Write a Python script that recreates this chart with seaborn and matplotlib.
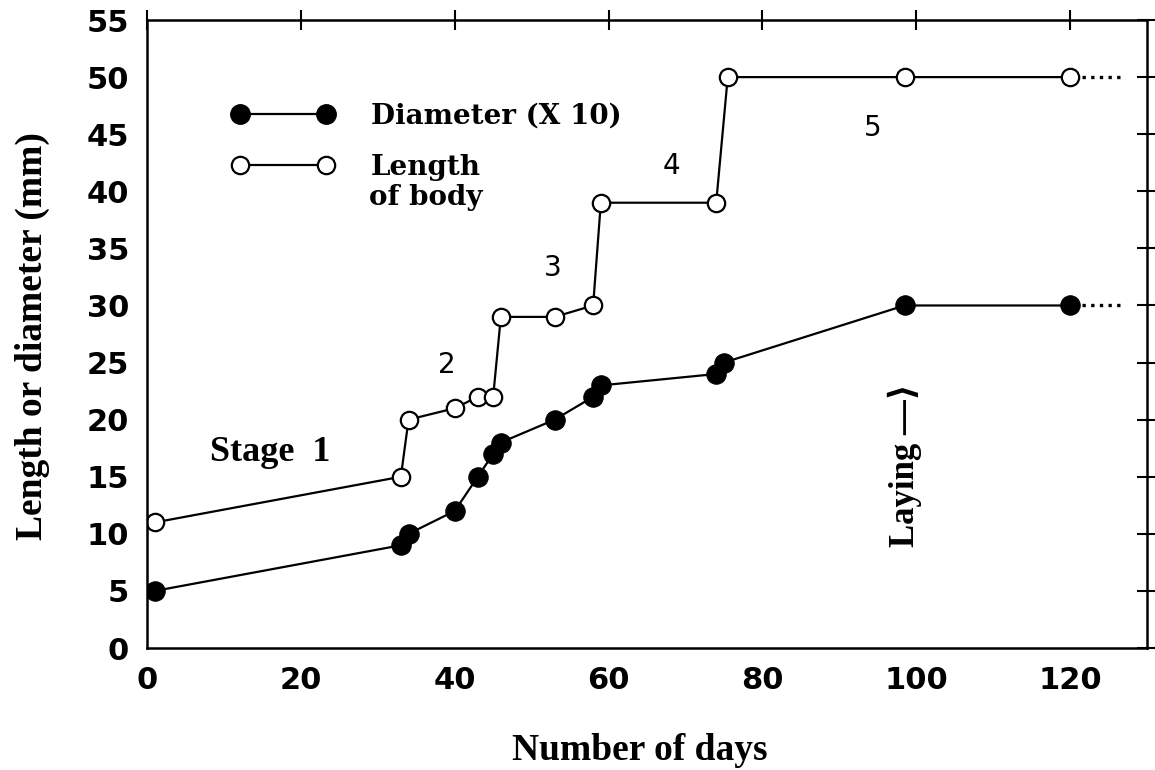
import numpy as np
import pandas as pd
import matplotlib
matplotlib.use('Agg')
import matplotlib.pyplot as plt
import seaborn as sns
from matplotlib.lines import Line2D

# data
len_days = [1, 33, 34, 40, 43, 45, 46, 53, 58, 59, 74, 75.5, 98.5, 120]
len_mm = [11, 15, 20, 21, 22, 22, 29, 29, 30, 39, 39, 50, 50, 50]
dia_days = [1, 33, 34, 40, 43, 45, 46, 53, 58, 59, 74, 75, 98.5, 120]
dia_mm = [5, 9, 10, 12, 15, 17, 18, 20, 22, 23, 24, 25, 30, 30]

stage_labels = ['2', '3', '4', '5']
stage_x = [39, 52.7, 68.2, 94.3]
stage_y = [24.8, 33.3, 42.2, 45.5]

df_len = pd.DataFrame({'day': len_days, 'mm': len_mm})
df_dia = pd.DataFrame({'day': dia_days, 'mm': dia_mm})

sns.set_style('white')
plt.rcParams['font.family'] = ['Liberation Serif', 'DejaVu Serif']
plt.rcParams['text.color'] = 'black'
plt.rcParams['axes.labelcolor'] = 'black'
plt.rcParams['xtick.color'] = 'black'
plt.rcParams['ytick.color'] = 'black'

SERIF_B = ['Liberation Serif', 'DejaVu Sans']

fig = plt.figure(figsize=(11.55, 7.7), dpi=100)
ax = fig.add_axes([0.1273, 0.1584, 0.8657, 0.8156])

sns.lineplot(data=df_dia, x='day', y='mm', ax=ax, estimator=None, sort=False,
             color='black', lw=1.6, marker='o', markersize=14,
             markerfacecolor='black', markeredgecolor='black')
sns.lineplot(data=df_len, x='day', y='mm', ax=ax, estimator=None, sort=False,
             color='black', lw=1.6, marker='o', markersize=12.5,
             markerfacecolor='white', markeredgecolor='black', markeredgewidth=1.6)

# dotted continuation after last point
ext = 7
ax.plot([dia_days[-1] + 1.5, dia_days[-1] + ext], [dia_mm[-1]] * 2, color='black', ls=(0, (1, 1.6)), lw=2.4)
ax.plot([len_days[-1] + 1.5, len_days[-1] + ext], [len_mm[-1]] * 2, color='black', ls=(0, (1, 1.6)), lw=2.4)

ax.text(8.2, 17.1, 'Stage  1', ha='left', va='center', fontsize=26, fontweight='bold', family=SERIF_B)
for lab, x, y in zip(stage_labels, stage_x, stage_y):
    ax.text(x, y, lab, ha='center', va='center', fontsize=20, family=['DejaVu Sans'])

ax.text(98.6, 16.0, 'Laying \u2014\u27E9', rotation=90, ha='center', va='center',
        fontsize=25, fontweight='bold', family=SERIF_B)

handles = [
    Line2D([], [], color='black', lw=1.6, marker='o', markersize=14,
           markerfacecolor='black', markeredgecolor='black'),
    Line2D([], [], color='black', lw=1.6, marker='o', markersize=12.5,
           markerfacecolor='white', markeredgecolor='black', markeredgewidth=1.6),
]
leg = ax.legend(handles, ['Diameter (X 10)', 'Length'], numpoints=2,
                handlelength=3.7, handletextpad=1.3, labelspacing=0.85,
                borderpad=0, borderaxespad=0,
                frameon=False, loc='upper left', bbox_to_anchor=(0.085, 0.868),
                prop={'family': 'DejaVu Serif', 'weight': 'bold', 'size': 20})
ax.text(0.222, 0.739, 'of body', transform=ax.transAxes, va='top', ha='left',
        fontsize=20, fontweight='bold', family=['DejaVu Serif'])

ax.set_xlim(0, 130)
ax.set_ylim(0, 55)
ax.set_xticks(np.arange(0, 121, 20))
ax.set_yticks(np.arange(0, 56, 5))
ax.tick_params(direction='inout', length=14, width=1.5, top=True, right=True,
               labelsize=22, pad=6)
for lab in ax.get_xticklabels() + ax.get_yticklabels():
    lab.set_family(['DejaVu Sans'])
    lab.set_fontweight('bold')
for s in ax.spines.values():
    s.set_linewidth(1.8)
    s.set_color('black')

ax.set_xlabel('Number of days', fontsize=27, fontweight='bold', family=SERIF_B)
ax.set_ylabel('Length or diameter (mm)', fontsize=27, fontweight='bold', family=SERIF_B)
ax.xaxis.set_label_coords(0.493, -0.135)
ax.yaxis.set_label_coords(-0.097, 0.497)

fig.savefig('out.png', dpi=100)
